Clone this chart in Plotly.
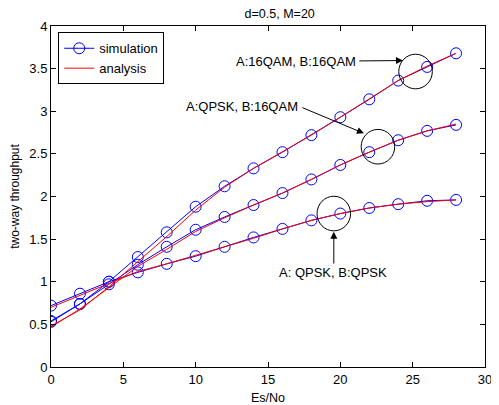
import plotly.graph_objects as go

snr = [0, 2, 4, 6, 8, 10, 12, 14, 16, 18, 20, 22, 24, 26, 28]

sim_16_16 = [0.53, 0.74, 1.00, 1.29, 1.58, 1.88, 2.12, 2.33, 2.52, 2.72, 2.93, 3.14, 3.36, 3.52, 3.68]
ana_16_16 = [0.48, 0.67, 0.94, 1.23, 1.53, 1.84, 2.11, 2.33, 2.52, 2.72, 2.93, 3.14, 3.36, 3.53, 3.68]

sim_q_16 = [0.54, 0.74, 0.97, 1.20, 1.41, 1.61, 1.76, 1.90, 2.04, 2.20, 2.37, 2.52, 2.66, 2.77, 2.84]
ana_q_16 = [0.47, 0.68, 0.93, 1.18, 1.38, 1.59, 1.75, 1.90, 2.04, 2.20, 2.37, 2.52, 2.66, 2.77, 2.85]

sim_q_q = [0.72, 0.86, 1.00, 1.11, 1.21, 1.30, 1.41, 1.52, 1.62, 1.72, 1.80, 1.865, 1.91, 1.95, 1.96]
ana_q_q = [0.70, 0.84, 0.98, 1.12, 1.21, 1.31, 1.41, 1.51, 1.62, 1.72, 1.80, 1.865, 1.91, 1.94, 1.96]

BLUE = "rgb(0,0,255)"
RED = "rgb(255,0,0)"
FONT = "Liberation Sans, Arial, Helvetica, sans-serif"

# page body has an 8px margin; figure is sized so it ends at the window edge
W, H = 491, 397

fig = go.Figure()
for i, s in enumerate([sim_16_16, sim_q_16, sim_q_q]):
    fig.add_trace(go.Scatter(
        x=snr, y=s, mode="lines+markers", name="simulation",
        line=dict(color=BLUE, width=1),
        marker=dict(symbol="circle-open", size=11, color=BLUE, line=dict(width=1, color=BLUE)),
        showlegend=(i == 0), legendgroup="sim"))
for i, a in enumerate([ana_16_16, ana_q_16, ana_q_q]):
    fig.add_trace(go.Scatter(
        x=snr, y=a, mode="lines", name="analysis",
        line=dict(color=RED, width=1),
        showlegend=(i == 0), legendgroup="ana"))

# ellipses
for cx, cy in [(25.2, 3.466), (22.6, 2.584), (19.55, 1.80)]:
    fig.add_shape(type="circle", xref="x", yref="y",
                  x0=cx - 1.16, x1=cx + 1.16, y0=cy - 0.203, y1=cy + 0.203,
                  line=dict(color="black", width=1))

# arrows
for (tx, ty, hx, hy) in [(21.21, 3.59, 24.33, 3.595), (17.27, 3.05, 21.63, 2.741), (19.55, 1.196, 19.55, 1.587)]:
    fig.add_annotation(x=hx, y=hy, ax=tx, ay=ty, xref="x", yref="y", axref="x", ayref="y",
                       text="", showarrow=True, arrowhead=2, arrowsize=1.4, arrowwidth=1,
                       arrowcolor="black")

for (tx, ty, t) in [(16.92, 3.589, "A:16QAM, B:16QAM"), (13.18, 3.06, "A:QPSK, B:16QAM"),
                    (19.48, 1.114, "A: QPSK, B:QPSK")]:
    fig.add_annotation(x=tx, y=ty, xref="x", yref="y", text=t, showarrow=False,
                       font=dict(size=13, color="black", family=FONT))

axis_common = dict(showline=True, linecolor="black", linewidth=1, mirror="ticks",
                   ticks="inside", ticklen=5, tickcolor="black", showgrid=False, zeroline=False,
                   automargin=False,
                   tickfont=dict(size=13, color="black", family=FONT))

fig.update_layout(
    width=W, height=H,
    margin=dict(l=43, r=14, t=18, b=38),
    paper_bgcolor="white", plot_bgcolor="white",
    font=dict(family=FONT, color="black", size=13),
    title=dict(text="d=0.5, M=20", x=0.527, xref="paper", y=1 - 5.5 / H, yref="container",
               xanchor="center", yanchor="middle", font=dict(size=12.5)),
    xaxis=dict(range=[0, 30], tickvals=[0, 5, 10, 15, 20, 25, 30],
               title=dict(text="Es/No", font=dict(size=12.5)), **axis_common),
    yaxis=dict(range=[0, 4], tickvals=[0, 0.5, 1, 1.5, 2, 2.5, 3, 3.5, 4],
               title=dict(text="two-way throughput", font=dict(size=12)), **axis_common),
    legend=dict(x=0.0166, y=0.9815, xanchor="left", yanchor="top",
                bordercolor="black", borderwidth=1, bgcolor="white",
                font=dict(size=13), tracegroupgap=0),
    showlegend=True,
)

fig.write_html("out.html")
